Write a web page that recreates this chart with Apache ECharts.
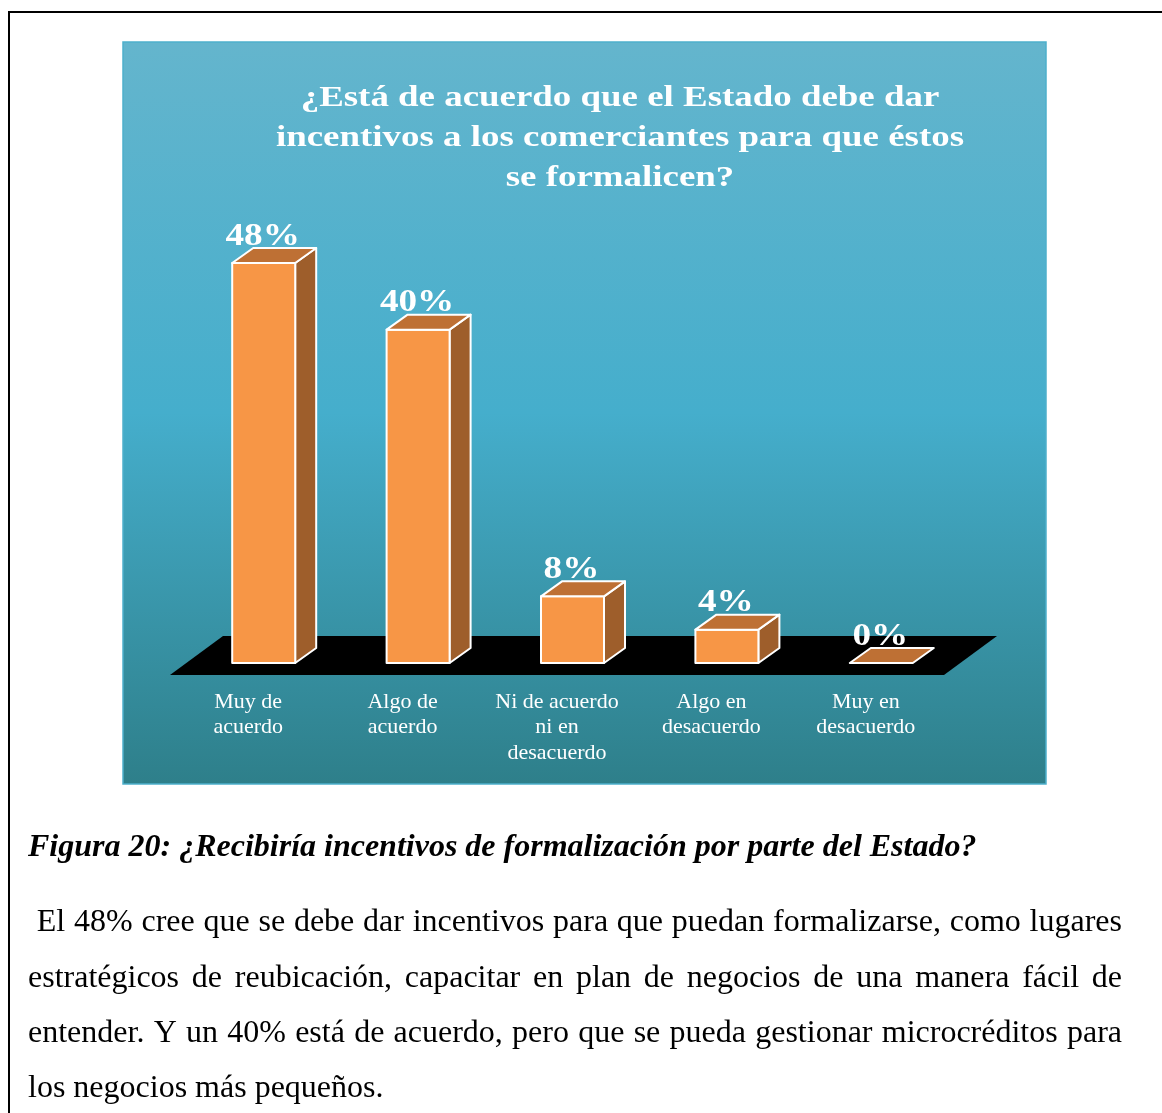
<!DOCTYPE html>
<html>
<head>
<meta charset="utf-8">
<script src="https://cdn.jsdelivr.net/npm/echarts@6/dist/echarts.min.js"></script>
<style>
html, body { margin: 0; padding: 0; background: #fff; }
#chart { width: 1162px; height: 1113px; }
</style>
</head>
<body>
<div id="chart"></div>
<script>
// datos de la figura
var categorias = ['Muy de\nacuerdo', 'Algo de\nacuerdo', 'Ni de acuerdo\nni en\ndesacuerdo', 'Algo en\ndesacuerdo', 'Muy en\ndesacuerdo'];
var porcentajes = [48, 40, 8, 4, 0];
var titulo = '¿Está de acuerdo que el Estado debe dar\nincentivos a los comerciantes para que éstos\nse formalicen?';
var leyenda = 'Figura 20: ¿Recibiría incentivos de formalización por parte del Estado?';
var parrafo = [
    ' El 48% cree que se debe dar incentivos para que puedan formalizarse, como lugares',
    'estratégicos de reubicación, capacitar en plan de negocios de una manera fácil de',
    'entender. Y un 40% está de acuerdo, pero que se pueda gestionar microcréditos para',
    'los negocios más pequeños.'
];

var serif = '"Liberation Serif", "Times New Roman", serif';
var gridLeft = 171, gridRight = 943, gridTop = 163, gridBase = 663;

// medir texto para justificar las lineas
var ctx = document.createElement('canvas').getContext('2d');
function ancho(txt, font) {
    ctx.font = font;
    return ctx.measureText(txt).width;
}

function lineaJustificada(txt, x0, x1, y, size, justificar) {
    var font = size + 'px ' + serif;
    var out = [];
    var lead = 0;
    if (txt.charAt(0) === ' ') { lead = ancho(' ', font) * 1.1; txt = txt.slice(1); }
    var words = txt.split(' ');
    var total = 0;
    words.forEach(function (w) { total += ancho(w, font); });
    var gap = ancho(' ', font);
    if (justificar && words.length > 1) gap = (x1 - x0 - lead - total) / (words.length - 1);
    var x = x0 + lead;
    words.forEach(function (w) {
        out.push({
            type: 'text', z: 5, x: x, y: y,
            style: { text: w, fill: '#000', font: font, textVerticalAlign: 'middle' }
        });
        x += ancho(w, font) + gap;
    });
    return out;
}

var graficos = [
    { type: 'rect', z: -20, shape: { x: 9, y: 12, width: 1400, height: 1400 }, style: { fill: 'none', stroke: '#000', lineWidth: 2 } },
    {
        type: 'rect', z: -10, shape: { x: 123, y: 42, width: 923, height: 742 },
        style: {
            stroke: '#4DB0CB', lineWidth: 1.5,
            fill: new echarts.graphic.LinearGradient(0, 0, 0, 1, [
                { offset: 0, color: '#64B5CD' },
                { offset: 0.5, color: '#45AECC' },
                { offset: 1, color: '#2E7F8A' }
            ])
        }
    },
    // piso negro
    {
        type: 'polygon', z: -5,
        shape: { points: [[170, 675], [223, 636], [997, 636], [944, 675]] },
        style: { fill: '#000' }
    },
    // titulo del grafico
    {
        type: 'text', z: 5, x: 620, y: 78, scaleX: 1.23,
        style: {
            text: titulo, fill: '#fff', font: 'bold 30px ' + serif, lineHeight: 40,
            textAlign: 'center', textVerticalAlign: 'top'
        }
    },
    {
        type: 'text', z: 5, x: 28, y: 848,
        style: { text: leyenda, fill: '#000', font: 'italic bold 32px ' + serif, textVerticalAlign: 'middle' }
    }
];

var lineY = [923, 979, 1034, 1089];
parrafo.forEach(function (l, i) {
    graficos = graficos.concat(lineaJustificada(l, 28, 1122, lineY[i], 32, i < parrafo.length - 1));
});

function barra3d(params, api) {
    var idx = api.value(0);
    var val = api.value(1);
    var p0 = api.coord([idx, 0]);
    var p1 = api.coord([idx, val]);
    var w = 63, dx = 21, dy = -15;
    var x0 = p0[0] - 16;
    var base = p0[1], top = p1[1];
    var borde = { stroke: '#fff', lineWidth: 2, lineJoin: 'round' };
    var hijos = [];
    if (base - top > 0.5) {
        hijos.push({
            type: 'polygon',
            shape: { points: [[x0 + w, top], [x0 + w + dx, top + dy], [x0 + w + dx, base + dy], [x0 + w, base]] },
            style: Object.assign({ fill: '#9E5E2B' }, borde)
        });
        hijos.push({
            type: 'rect',
            shape: { x: x0, y: top, width: w, height: base - top },
            style: Object.assign({ fill: '#F79646' }, borde)
        });
    }
    hijos.push({
        type: 'polygon',
        shape: { points: [[x0, top], [x0 + dx, top + dy], [x0 + w + dx, top + dy], [x0 + w, top]] },
        style: Object.assign({ fill: '#BE7034' }, borde)
    });
    hijos.push({
        type: 'text', x: x0 + w / 2 - 1, y: top + dy + 4, scaleX: 1.2,
        style: {
            text: val + '%', fill: '#fff', font: 'bold 31px ' + serif,
            textAlign: 'center', textVerticalAlign: 'bottom'
        }
    });
    return { type: 'group', children: hijos };
}

var chart = echarts.init(document.getElementById('chart'));
chart.setOption({
    animation: false,
    grid: { left: gridLeft, width: gridRight - gridLeft, top: gridTop, height: gridBase - gridTop },
    xAxis: {
        type: 'category',
        data: categorias,
        axisLine: { show: false },
        axisTick: { show: false },
        axisLabel: { color: '#fff', fontFamily: serif, fontSize: 22, lineHeight: 25.5, margin: 26, interval: 0, align: 'center' }
    },
    yAxis: { type: 'value', min: 0, max: 60, show: false, splitLine: { show: false } },
    graphic: graficos,
    series: [{
        type: 'custom',
        renderItem: barra3d,
        data: porcentajes.map(function (v, i) { return [i, v]; }),
        encode: { x: 0, y: 1 }
    }]
});
</script>
</body>
</html>
